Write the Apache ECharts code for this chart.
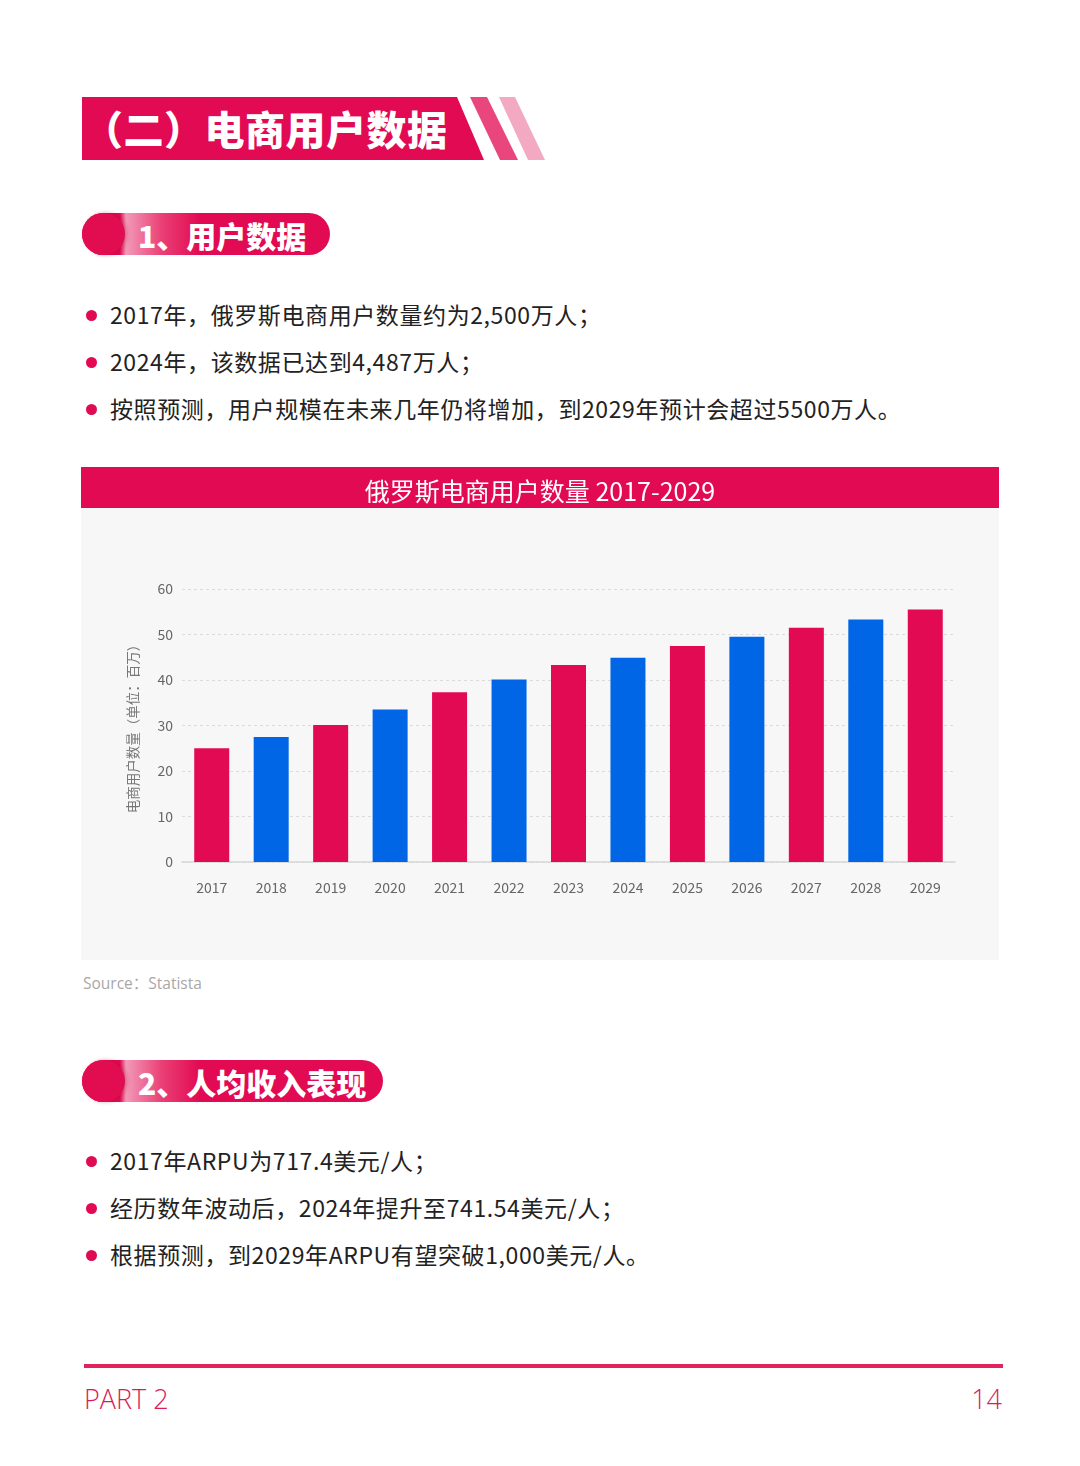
<!DOCTYPE html>
<html>
<head>
<meta charset="utf-8">
<script src="https://cdn.jsdelivr.net/npm/echarts@6/dist/echarts.min.js"></script>
<style>
    html, body { margin: 0; padding: 0; background: #fff; }
    body { width: 1080px; height: 1466px; position: relative; overflow: hidden;
        font-family: "Noto Sans CJK SC", "Noto Sans", sans-serif; color: #222; }
    .abs { position: absolute; }
    .head { left: 82px; top: 97px; width: 402px; height: 63px; background: #e20a52;
        clip-path: polygon(0 0, 375px 0, 402px 63px, 0 63px); }
    .head-text { left: 83px; top: 97px; height: 63px; line-height: 63px; color: #fff;
        font-size: 40px; font-weight: 900; letter-spacing: 0.5px; white-space: nowrap; }
    .stripe1 { left: 470px; top: 97px; width: 48px; height: 63px; background: #e8467c;
        clip-path: polygon(0 0, 17px 0, 48px 63px, 30px 63px); }
    .stripe2 { left: 499px; top: 97px; width: 46px; height: 63px; background: #f3a9c2;
        clip-path: polygon(0 0, 16px 0, 46px 63px, 29px 63px); }
    .pill { height: 42px; border-radius: 21px; left: 82px;
        background: linear-gradient(to right, #e20a52 0px, #e20a52 38px, #f29ab8 44px, #ea3f75 80px, #e20a52 118px, #e20a52 100%); }
    .pill .dot { position: absolute; left: 0; top: 0; width: 43px; height: 42px; border-radius: 21px;
        background: #e20d51; box-shadow: 2px 0 4px rgba(150, 0, 40, 0.3); }
    .pill .txt { position: absolute; left: 56px; top: 0; line-height: 44px; color: #fff;
        font-size: 30px; font-weight: 900; white-space: nowrap; }
    .bullet { left: 86px; font-size: 23px; line-height: 30px; letter-spacing: 0.6px; white-space: nowrap; color: #222; }
    .bullet::before { content: ""; display: inline-block; width: 11px; height: 11px; border-radius: 50%;
        background: #e20a52; margin-right: 13px; vertical-align: 3px; }
    .source { left: 83px; top: 971px; font-size: 15.5px; color: #a8a8a8; font-family: "Open Sans", "Noto Sans CJK SC", sans-serif; }
    .footline { left: 84px; top: 1364px; width: 919px; height: 4px; background: #e0245e; }
    .foot { top: 1380px; font-size: 27px; color: #d81b5a; font-family: "Open Sans", "Noto Sans", sans-serif; font-weight: 300; }
    #chart { left: 81px; top: 467px; width: 918px; height: 493px; }
</style>
</head>
<body>
<div class="abs head"></div>
<div class="abs stripe1"></div>
<div class="abs stripe2"></div>
<div class="abs head-text">（二）电商用户数据</div>

<div class="abs pill" style="top:213px;width:248px;"><div class="dot"></div><div class="txt">1、用户数据</div></div>
<div class="abs bullet" style="top:299px;">2017年，俄罗斯电商用户数量约为2,500万人；</div>
<div class="abs bullet" style="top:346px;">2024年，该数据已达到4,487万人；</div>
<div class="abs bullet" style="top:393px;">按照预测，用户规模在未来几年仍将增加，到2029年预计会超过5500万人。</div>

<div id="chart" class="abs"></div>
<div class="abs source">Source：Statista</div>

<div class="abs pill" style="top:1060px;width:301px;"><div class="dot"></div><div class="txt">2、人均收入表现</div></div>
<div class="abs bullet" style="top:1145px;">2017年ARPU为717.4美元/人；</div>
<div class="abs bullet" style="top:1192px;">经历数年波动后，2024年提升至741.54美元/人；</div>
<div class="abs bullet" style="top:1239px;">根据预测，到2029年ARPU有望突破1,000美元/人。</div>

<div class="abs footline"></div>
<div class="abs foot" style="left:84px;">PART 2</div>
<div class="abs foot" style="right:78px;">14</div>

<script>
// 数据
let years = ['2017', '2018', '2019', '2020', '2021', '2022', '2023', '2024', '2025', '2026', '2027', '2028', '2029'];
let users = [25.0, 27.5, 30.1, 33.5, 37.3, 40.1, 43.3, 44.9, 47.5, 49.5, 51.5, 53.3, 55.5];
let yTicks = [0, 10, 20, 30, 40, 50, 60];

let colorList = ['#e20a52', '#0066e6'];

let chart = echarts.init(document.getElementById('chart'));
let option = {
    backgroundColor: 'transparent',
    title: {
        text: '俄罗斯电商用户数量 2017-2029',
        left: 'center',
        top: 7,
        textStyle: {
            color: '#fff',
            fontSize: 25,
            fontWeight: 'normal',
            fontFamily: 'Noto Sans CJK SC'
        }
    },
    graphic: [
        {
            type: 'rect',
            z: -10,
            shape: {x: 0, y: 0, width: 918, height: 41},
            style: {fill: '#e20a52'}
        },
        {
            type: 'rect',
            z: -10,
            shape: {x: 0, y: 41, width: 918, height: 452},
            style: {fill: '#f7f7f7'}
        }
    ],
    grid: {
        left: 101,
        right: 44,
        top: 122,
        bottom: 98
    },
    xAxis: {
        type: 'category',
        data: years,
        axisTick: {show: false},
        axisLine: {lineStyle: {color: '#d6d6d6', width: 1.5}},
        axisLabel: {
            color: '#666',
            fontSize: 14,
            margin: 19,
            fontFamily: 'Noto Sans CJK SC'
        }
    },
    yAxis: {
        type: 'value',
        min: yTicks[0],
        max: yTicks[yTicks.length - 1],
        interval: 10,
        name: '电商用户数量（单位：百万）',
        nameLocation: 'middle',
        nameGap: 42,
        nameTextStyle: {color: '#777', fontSize: 13.5, fontFamily: 'Noto Sans CJK SC'},
        axisLine: {show: false},
        axisTick: {show: false},
        axisLabel: {color: '#666', fontSize: 14, margin: 9, fontFamily: 'Noto Sans CJK SC'},
        splitLine: {lineStyle: {color: '#dcdcdc', type: [3, 3]}}
    },
    series: [
        {
            name: '电商用户数量',
            type: 'bar',
            barWidth: 35,
            data: users,
            itemStyle: {
                color: function (params) {
                    return colorList[params.dataIndex % 2];
                }
            }
        }
    ]
};
chart.setOption(option);
</script>
</body>
</html>
